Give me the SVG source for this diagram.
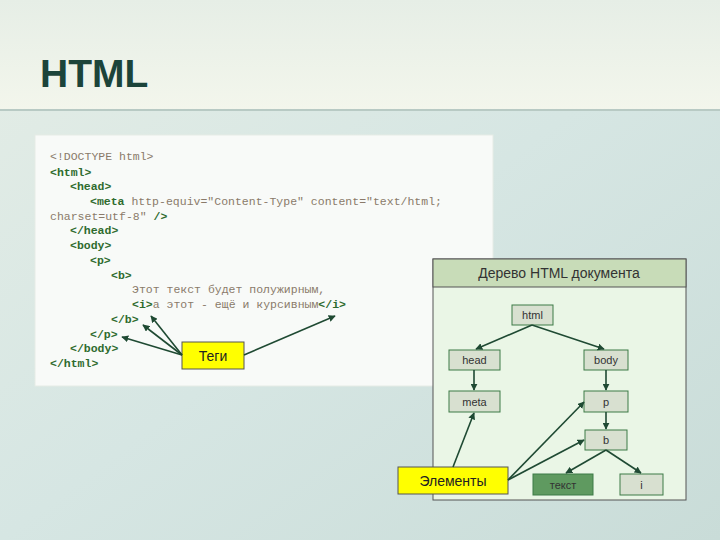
<svg xmlns="http://www.w3.org/2000/svg" width="720" height="540" viewBox="0 0 720 540">
<defs>
<linearGradient id="bg" x1="0" y1="0" x2="1" y2="1">
<stop offset="0" stop-color="#e4ede6"/><stop offset="0.5" stop-color="#d6e6e3"/><stop offset="1" stop-color="#c9dcd8"/>
</linearGradient>
<linearGradient id="hd" x1="0" y1="0" x2="0" y2="1">
<stop offset="0" stop-color="#e6eee6"/><stop offset="1" stop-color="#f3f6ec"/>
</linearGradient>
<marker id="ar" viewBox="0 0 10 10" refX="9" refY="5" markerWidth="7" markerHeight="7" orient="auto-start-reverse" markerUnits="userSpaceOnUse">
<path d="M0,0 L10,5 L0,10 z" fill="#1f4a33"/>
</marker>
<style>
.code{font-family:"Liberation Mono",monospace;font-size:11.5px;fill:#8a7a6a}
.tag{font-weight:bold;fill:#2e6b2e}
.node{fill:#d8e0d0;stroke:#3c7a46;stroke-width:1}
.nt{font-family:"Liberation Sans",Arial,sans-serif;font-size:11px;fill:#333;text-anchor:middle}
.conn line{stroke:#1f4a33;stroke-width:1.6;marker-end:url(#ar)}
.lbl{fill:#ffff00;stroke:#555;stroke-width:1}
.lt{font-family:"Liberation Sans",Arial,sans-serif;font-size:14px;fill:#222;text-anchor:middle}
</style>
</defs>
<rect width="720" height="540" fill="url(#bg)"/>
<rect width="720" height="110" fill="url(#hd)"/>
<line x1="0" y1="110" x2="720" y2="110" stroke="#b8cac4" stroke-width="2"/>
<text x="40" y="87" font-family="Liberation Sans,Arial,sans-serif" font-weight="bold" font-size="39" fill="#1c443a">HTML</text>

<g id="code">
<rect x="35" y="135" width="458" height="251" fill="#f8faf8" stroke="#e6ece6"/>
<text class="code" x="50" y="160">&lt;!DOCTYPE html&gt;</text>
<text class="code tag" x="50" y="176">&lt;html&gt;</text>
<text class="code tag" x="70" y="190">&lt;head&gt;</text>
<text class="code" x="90" y="205"><tspan class="tag">&lt;meta</tspan> http-equiv="Content-Type" content="text/html;</text>
<text class="code" x="50" y="220">charset=utf-8" <tspan class="tag">/&gt;</tspan></text>
<text class="code tag" x="70" y="234">&lt;/head&gt;</text>
<text class="code tag" x="70" y="249">&lt;body&gt;</text>
<text class="code tag" x="90" y="264">&lt;p&gt;</text>
<text class="code tag" x="111" y="279">&lt;b&gt;</text>
<text class="code" x="132" y="293" fill="#555">Этот текст будет полужирным,</text>
<text class="code" x="132" y="308"><tspan class="tag">&lt;i&gt;</tspan>а этот - ещё и курсивным<tspan class="tag">&lt;/i&gt;</tspan></text>
<text class="code tag" x="111" y="323">&lt;/b&gt;</text>
<text class="code tag" x="90" y="338">&lt;/p&gt;</text>
<text class="code tag" x="70" y="352">&lt;/body&gt;</text>
<text class="code tag" x="50" y="367">&lt;/html&gt;</text>
</g>

<g id="tree">
<rect x="433" y="259" width="253" height="241" fill="#eaf6e6" stroke="#555"/>
<rect x="433" y="259" width="253" height="28" fill="#c8dcb8" stroke="#555"/>
<text x="559" y="278" font-family="Liberation Sans,Arial,sans-serif" font-size="14" fill="#333" text-anchor="middle">Дерево HTML документа</text>
</g>
<g id="n-html"><rect class="node" x="512" y="305" width="41" height="20"/><text class="nt" x="532.5" y="319">html</text></g>
<g id="n-head"><rect class="node" x="449" y="350" width="51" height="20"/><text class="nt" x="474.5" y="364">head</text></g>
<g id="n-body"><rect class="node" x="584" y="350" width="44" height="20"/><text class="nt" x="606" y="364">body</text></g>
<g id="n-meta"><rect class="node" x="449" y="391" width="51" height="21"/><text class="nt" x="474.5" y="406">meta</text></g>
<g id="n-p"><rect class="node" x="584" y="391" width="44" height="21"/><text class="nt" x="606" y="406">p</text></g>
<g id="n-b"><rect class="node" x="585" y="430" width="42" height="20"/><text class="nt" x="606" y="444">b</text></g>
<g id="n-text"><rect x="533" y="474" width="60" height="21" fill="#5f9a60" stroke="#3c7a46"/><text class="nt" x="563" y="489">текст</text></g>
<g id="n-i"><rect class="node" x="620" y="474" width="43" height="21"/><text class="nt" x="641.5" y="489">i</text></g>

<g id="l-tags"><rect class="lbl" x="182" y="342" width="62" height="27"/><text class="lt" x="213" y="361">Теги</text></g>
<g id="l-el"><rect class="lbl" x="398" y="467" width="110" height="27"/><text class="lt" x="453" y="486">Элементы</text></g>

<g class="conn" id="connectors">
<line x1="532" y1="325" x2="476" y2="349"/>
<line x1="532" y1="325" x2="604" y2="349"/>
<line x1="474" y1="370" x2="474" y2="390"/>
<line x1="606" y1="370" x2="606" y2="390"/>
<line x1="606" y1="412" x2="606" y2="429"/>
<line x1="606" y1="450" x2="566" y2="473"/>
<line x1="606" y1="450" x2="641" y2="473"/>
<line x1="453" y1="467" x2="474" y2="413"/>
<line x1="508" y1="480" x2="584" y2="402"/>
<line x1="508" y1="480" x2="584" y2="440"/>
<line x1="182" y1="355" x2="151" y2="316"/>
<line x1="182" y1="355" x2="143" y2="325"/>
<line x1="182" y1="355" x2="122" y2="337"/>
<line x1="244" y1="355" x2="335" y2="316"/>
</g>
</svg>
